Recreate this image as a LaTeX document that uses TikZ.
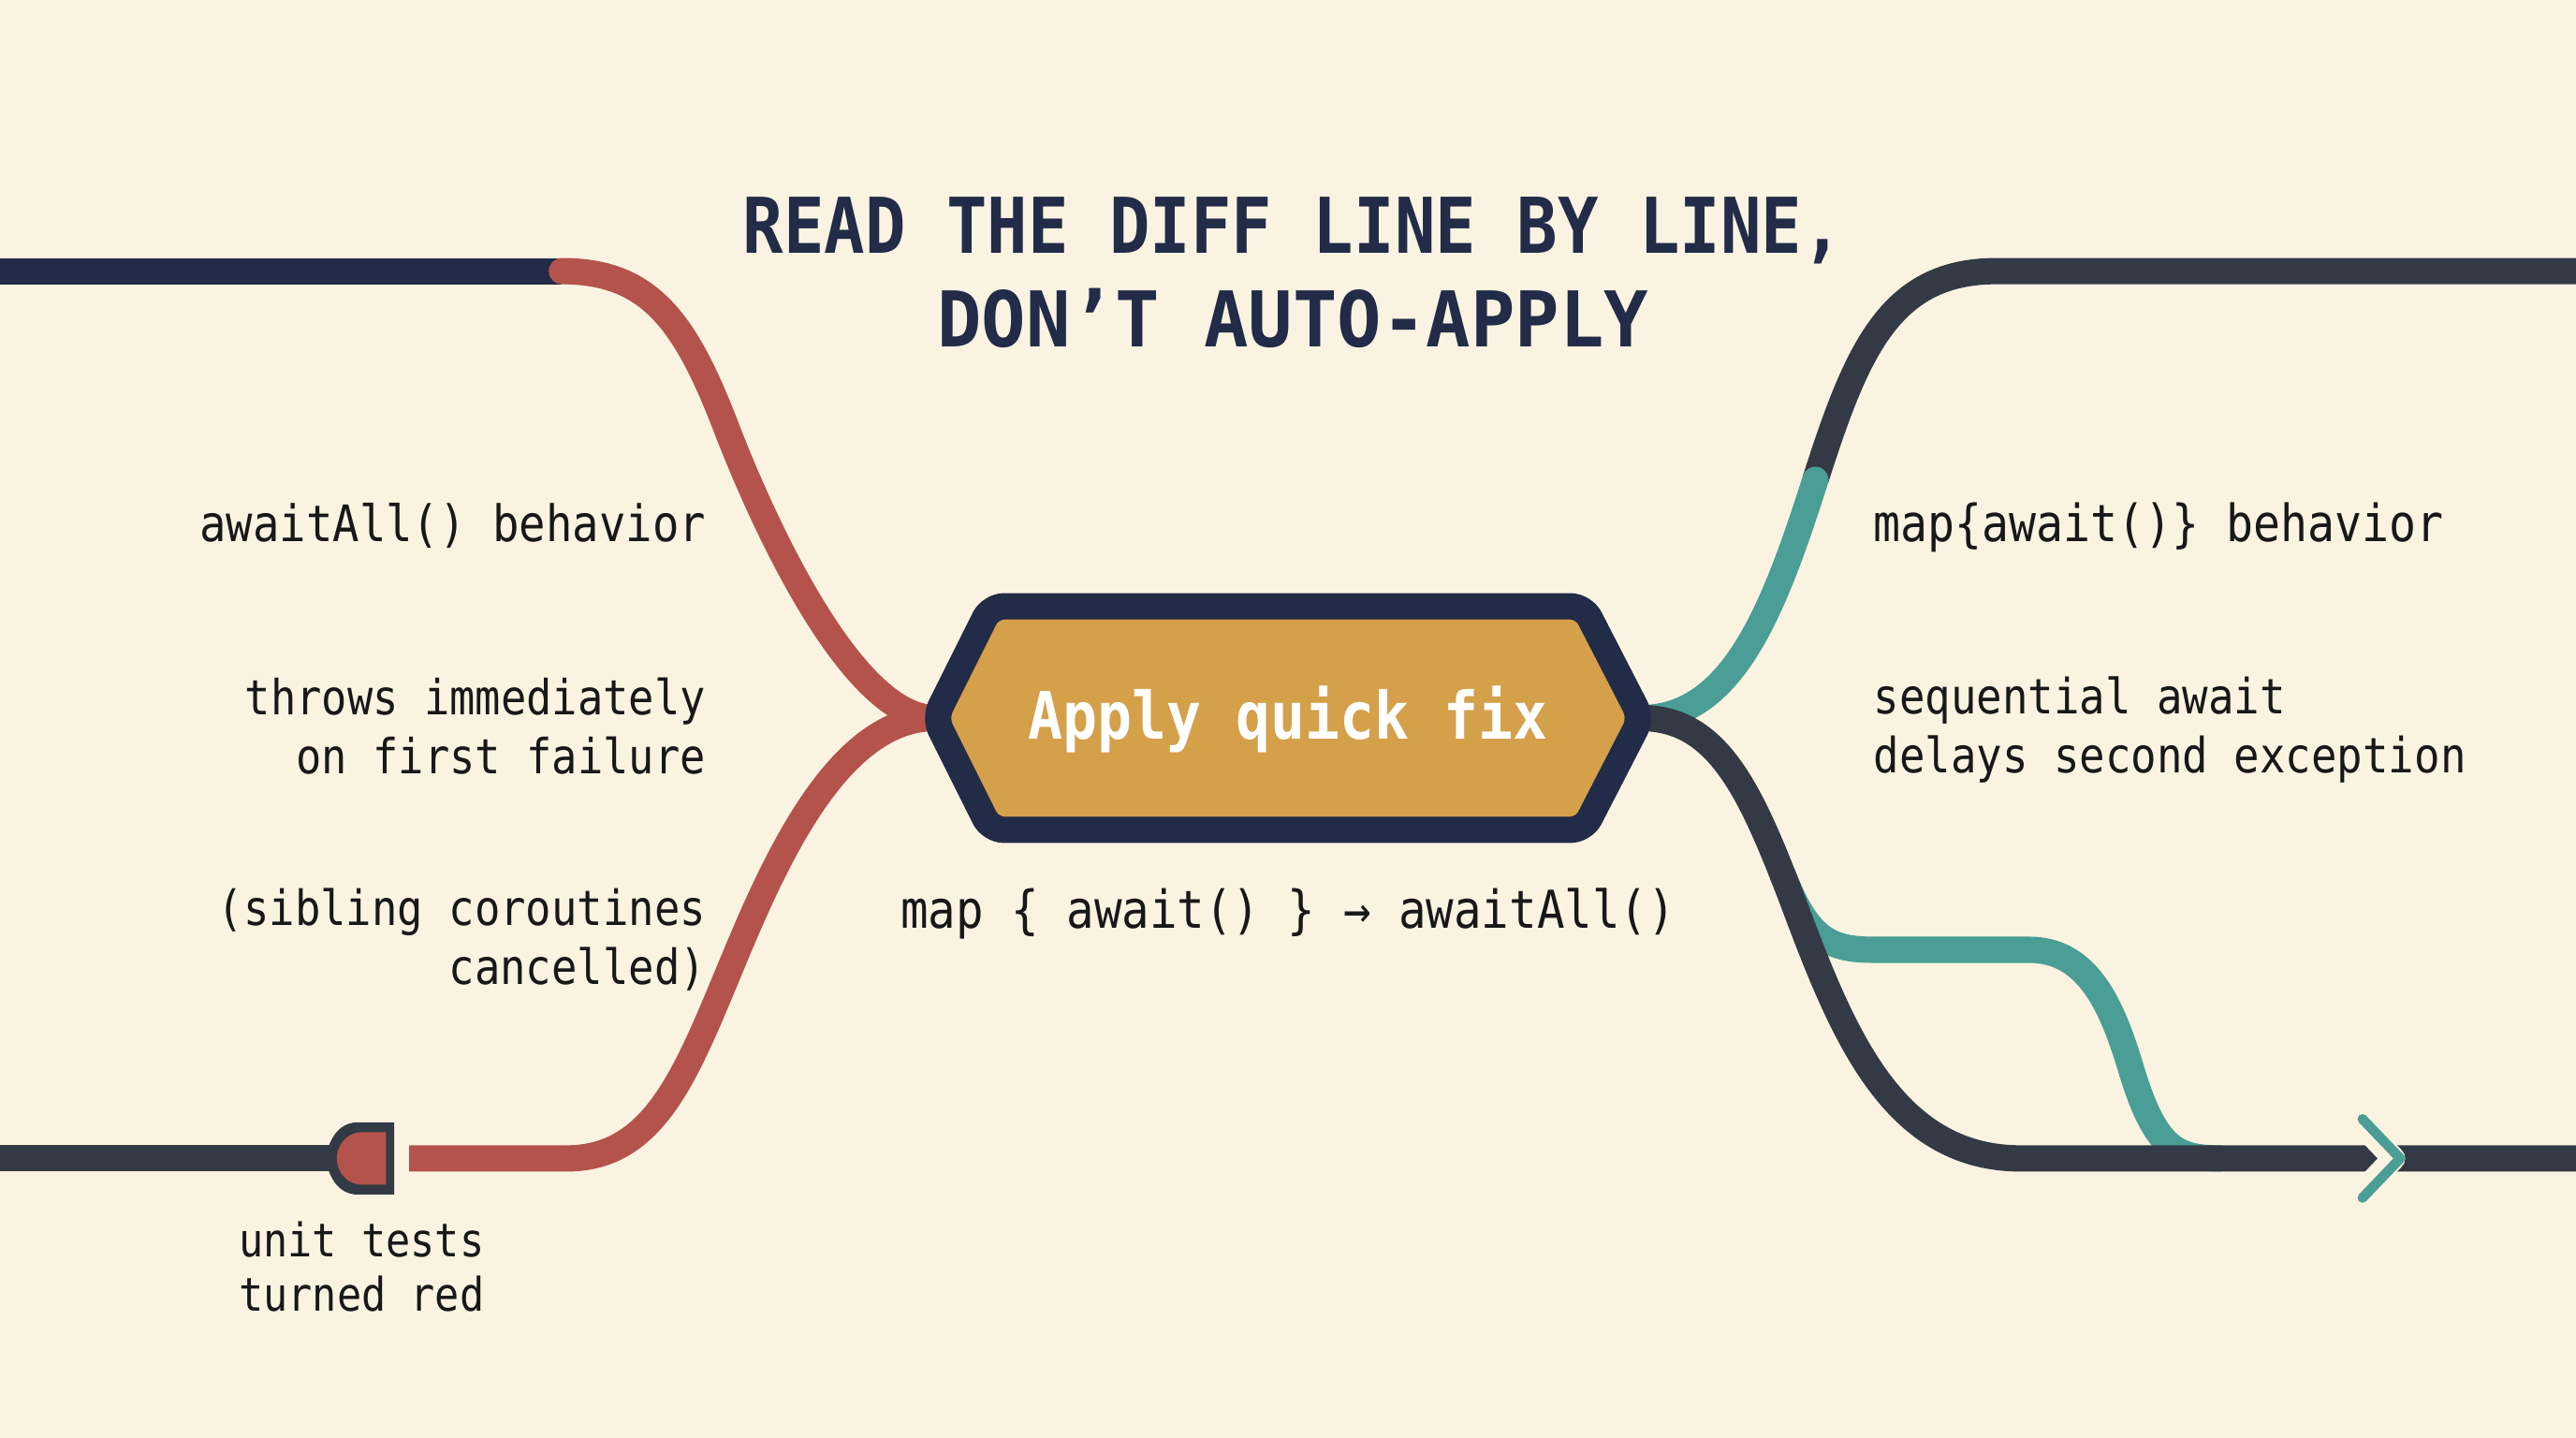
\documentclass[tikz,border=0pt]{standalone}
\usepackage{fontspec}
\newfontfamily\mono{DejaVu Sans Mono}[FakeStretch=0.88]
\newfontfamily\monow{DejaVu Sans Mono}[FakeStretch=0.96]
\definecolor{bg}{HTML}{FBF3E2}
\definecolor{navy}{HTML}{222B47}
\definecolor{slate}{HTML}{333A46}
\definecolor{brick}{HTML}{B4534B}
\definecolor{tealc}{HTML}{4A9E95}
\definecolor{gold}{HTML}{D4A04A}
\definecolor{ink}{HTML}{181818}
\newcommand{\lblsize}[1]{\mono\fontsize{#1}{18}\selectfont}
\begin{document}
\begin{tikzpicture}[x=0.5pt,y=-0.5pt,
  wire/.style={line width=8pt, line cap=butt},
  lbl/.style={font=\lblsize{15.3}, text=ink, inner sep=0pt},
  ttl/.style={font=\mono\bfseries\fontsize{23.4}{28.5}\selectfont, text=navy, align=center, inner sep=0pt},
  hexbox/.style={draw=navy, line width=8pt, fill=gold, rounded corners=4pt, line join=round},
  chev/.style={line width=3pt, line cap=round, line join=round}]
\fill[bg] (0,0) rectangle (1568,875);
\useasboundingbox (0,0) rectangle (1568,875);

% coordinates
\coordinate (hexL) at (569,437);
\coordinate (hexR) at (999,437);
\coordinate (tlA) at (0,165);
\coordinate (tlB) at (342,165);
\coordinate (blA) at (0,705);
\coordinate (blB) at (202,705);
\coordinate (brS) at (249,705);
\coordinate (trA) at (1568,165);
\coordinate (trM) at (1105,292);
\coordinate (brA) at (1568,705);
\coordinate (tbS) at (1085,532);
\coordinate (tbE) at (1352,705);
\coordinate (chv) at (1461,705);

% top-left
\draw[wire, navy] (tlA) -- (tlB);
\draw[wire, brick, line cap=round] (tlB) .. controls (395,165) and (417,195) .. (442,260)
   .. controls (467,325) and (520,437) .. (hexL);
% bottom-left
\draw[wire, slate] (blA) -- (blB);
\draw[wire, brick] (brS) -- (345,705) .. controls (395,705) and (415,660) .. (440,600)
   .. controls (465,540) and (505,437) .. (hexL);
% gate
\fill[slate] (240,683) -- (218,683) .. controls (205,683) and (200,695) .. (198,705)
   .. controls (200,715) and (205,727) .. (218,727) -- (240,727) -- cycle;
\fill[brick] (235,689) -- (221,689) .. controls (210,689) and (205,698) .. (205,705)
   .. controls (205,712) and (210,721) .. (221,721) -- (235,721) -- cycle;

% right: teal branch (under dark)
\draw[wire, tealc] (tbS) .. controls (1100,570) and (1112,578) .. (1140,578) -- (1235,578)
   .. controls (1270,578) and (1285,610) .. (1297,650) .. controls (1312,700) and (1325,705) .. (tbE);
% top right dark
\draw[wire, slate] (trM) .. controls (1130,214) and (1150,165) .. (1215,165) -- (trA);
\draw[wire, tealc, line cap=round] (hexR) .. controls (1055,437) and (1080,370) .. (trM);
% lower right dark
\draw[wire, slate] (hexR) .. controls (1045,437) and (1065,480) .. (1090,545)
   .. controls (1120,625) and (1150,705) .. (1230,705) -- (brA);
% chevron
\draw[chev, bg, line width=7pt] ([xshift=-2pt]chv) ++(-23,-24) -- ++(23,24) -- ++(-23,24);
\draw[chev, tealc] (chv) ++(-23,-24) -- ++(23,24) -- ++(-23,24);

% hexagon
\draw[hexbox] (hexL) -- (603,369) -- (964,369) -- (hexR) -- (964,505) -- (603,505) -- cycle;
\node[font=\mono\bfseries\fontsize{19.9}{24}\selectfont, text=white, inner sep=0pt] (fix) at (784,438) {Apply quick fix};

% title
\node[ttl] (title) at (787,166) {READ THE DIFF LINE BY LINE,\\{\monow DON’T AUTO-APPLY}};

% labels
\node[lbl, anchor=east] (l1) at (430,320) {awaitAll() behavior};
\node[lbl, anchor=east, align=right, font=\lblsize{14.7}] (l2) at (430,442) {throws immediately\\on first failure};
\node[lbl, anchor=east, align=right, font=\lblsize{14.75}] (l3) at (430,572) {(sibling coroutines\\cancelled)};
\node[lbl, anchor=west, align=left, font=\mono\fontsize{14.1}{16.5}\selectfont] (l4) at (145,771) {unit tests\\turned red};
\node[lbl, font=\lblsize{15.9}] (mid) at (784,556) {map \{ await() \} → awaitAll()};
\node[lbl, anchor=west, font=\lblsize{15.6}] (r1) at (1140,321) {map\{await()\} behavior};
\node[lbl, anchor=west, align=left, font=\lblsize{14.8}] (r2) at (1140,444) {sequential await\\delays second exception};
\end{tikzpicture}
\end{document}
